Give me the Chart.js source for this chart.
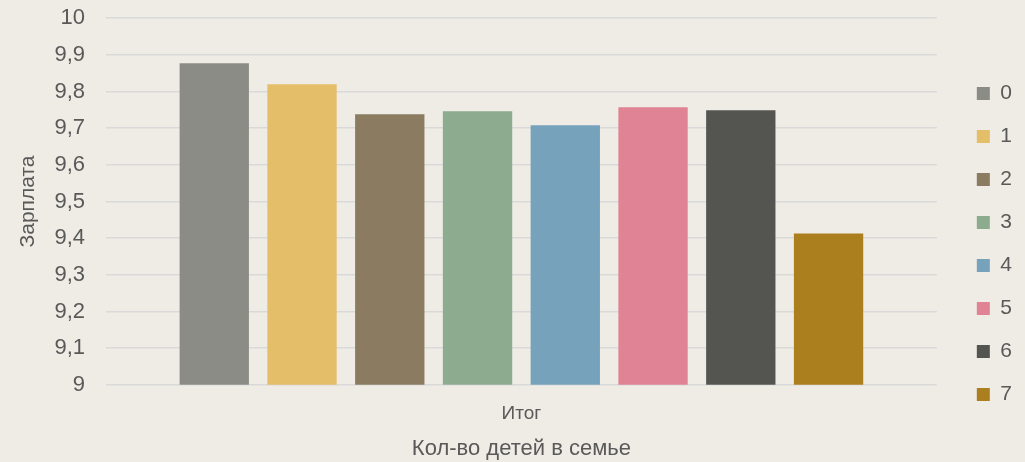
<!DOCTYPE html>
<html>
<head>
<meta charset="utf-8">
<script src="https://cdn.jsdelivr.net/npm/chart.js@4"></script>
<style>
  html, body { margin: 0; padding: 0; background: #EEECE4; }
  #wrap { width: 1025px; height: 462px; }
</style>
</head>
<body>
<div id="wrap"><canvas id="salaryChart"></canvas></div>
<script>
// категории и значения
const categories = ["Итог"];
const seriesNames = ["0", "1", "2", "3", "4", "5", "6", "7"];
const seriesValues = [9.877, 9.82, 9.738, 9.746, 9.708, 9.757, 9.749, 9.413];
const seriesColors = ["#8C8C86", "#E5BE6A", "#8A7B61", "#8DAB8E", "#77A2BB", "#E08394", "#545550", "#AC7F1E"];

const textColor = "#595959";
const fontFamily = "'Liberation Sans', Arial, sans-serif";

const ctx = document.getElementById("salaryChart").getContext("2d");
new Chart(ctx, {
    type: "bar",
    data: {
        labels: categories,
        datasets: seriesNames.map((name, i) => ({
            label: name,
            data: [seriesValues[i]],
            backgroundColor: seriesColors[i],
            categoryPercentage: 0.845,
            barPercentage: 0.79
        }))
    },
    options: {
        responsive: true,
        maintainAspectRatio: false,
        animation: false,
        layout: { padding: { top: 0, right: 3, bottom: 0, left: 12 } },
        plugins: {
            legend: {
                position: "right",
                title: { display: true, text: " ", font: { size: 10 }, padding: 7 },
                labels: {
                    boxWidth: 13,
                    boxHeight: 13,
                    padding: 22,
                    color: textColor,
                    font: { family: fontFamily, size: 21 }
                }
            },
            tooltip: { enabled: false }
        },
        scales: {
            x: {
                grid: { display: false },
                border: { display: false },
                ticks: { color: textColor, font: { family: fontFamily, size: 19 }, padding: 10 },
                title: {
                    display: true,
                    text: "Кол-во детей в семье",
                    color: textColor,
                    font: { family: fontFamily, size: 22 },
                    padding: { top: 0, bottom: 0 }
                }
            },
            y: {
                min: 9,
                max: 10,
                grid: { color: "#D9D9D9", lineWidth: 1.5, drawTicks: true, tickLength: 16, tickColor: "transparent" },
                border: { display: false },
                ticks: {
                    stepSize: 0.1,
                    color: textColor,
                    font: { family: fontFamily, size: 22 },
                    padding: 5,
                    callback: v => {
                        const r = Math.round(v * 10) / 10;
                        return Number.isInteger(r) ? String(r) : r.toFixed(1).replace(".", ",");
                    }
                },
                title: {
                    display: true,
                    text: "Зарплата",
                    color: textColor,
                    font: { family: fontFamily, size: 21 },
                    padding: { bottom: 2 }
                },
                afterFit: s => { s.width = 94; }
            },
            // пустая ось справа — зазор между графиком и легендой
            gap: {
                position: "right",
                grid: { display: false },
                border: { display: false },
                ticks: { display: false },
                afterFit: s => { s.width = 18; }
            }
        }
    }
});
</script>
</body>
</html>
